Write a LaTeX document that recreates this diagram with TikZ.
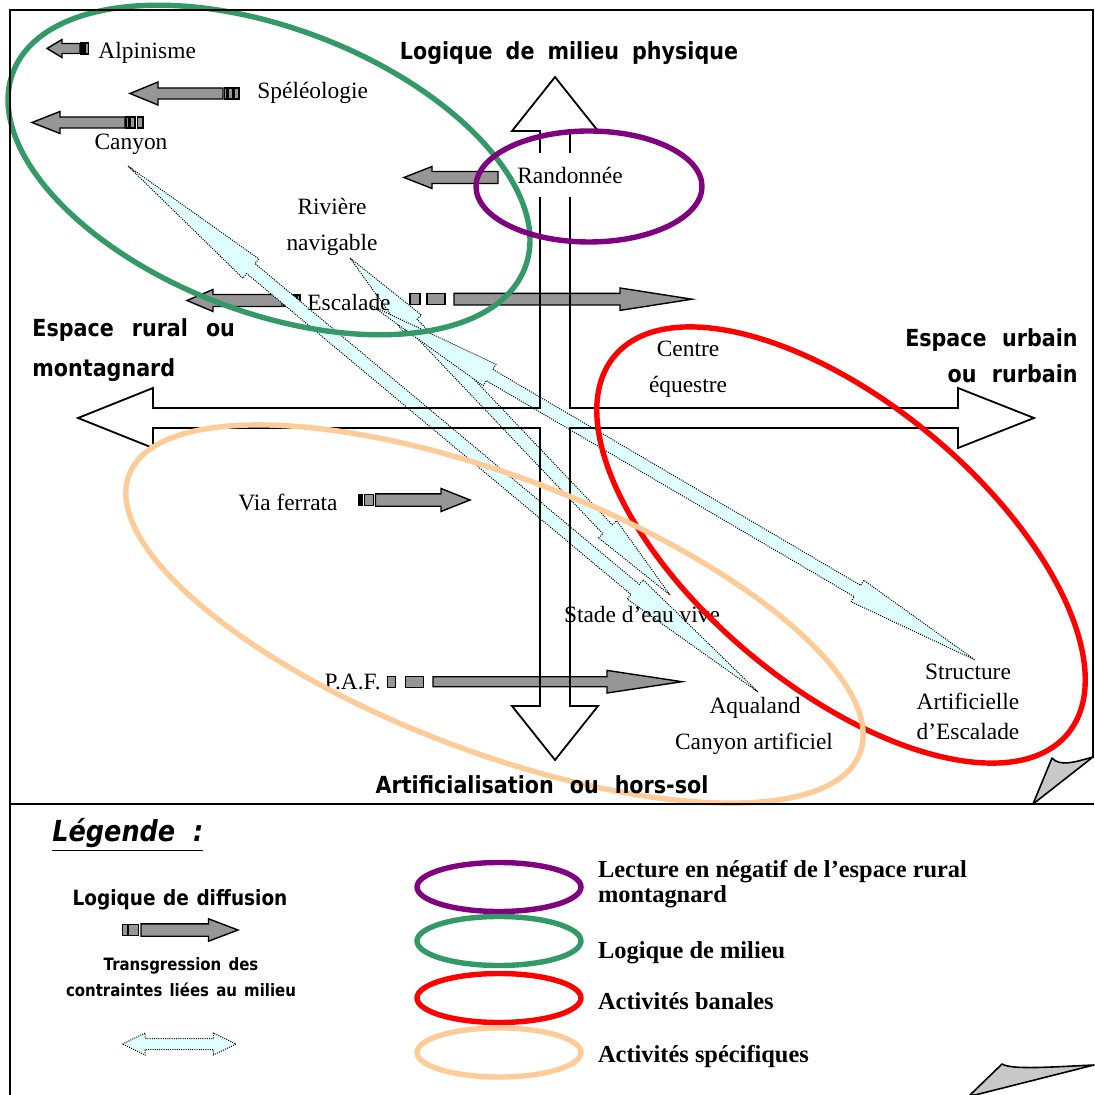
\documentclass[tikz,border=0pt]{standalone}
\usepackage{fontspec}
\setmainfont{Liberation Serif}
\newfontfamily\etroite{DejaVu Sans}[FakeStretch=0.88]
\usetikzlibrary{positioning, calc, shapes.geometric, backgrounds}
\definecolor{Gris}{HTML}{969696}
\definecolor{Pli}{HTML}{C8C8C8}
\definecolor{Transg}{HTML}{E0FFFF}
\definecolor{Vert}{HTML}{339966}
\definecolor{Violet}{HTML}{800080}
\definecolor{Rouge}{HTML}{FF0000}
\definecolor{Peche}{HTML}{FFCC99}
\newcommand{\lieufont}{\fontsize{11.7}{18}\selectfont}
\newcommand{\axefont}{\etroite\bfseries\fontsize{11.75}{20}\selectfont\spaceskip=6.5pt\relax}
\newcommand{\legfont}{\bfseries\fontsize{12.2}{12.5}\selectfont}
% flèche grise : queue, base de la tête, pointe, y, demi-tête, demi-tige
\newcommand{\fleche}[6]{\draw[diffusion] (#1,#4-#6) -- (#2,#4-#6) -- (#2,#4-#5) -- (#3,#4) -- (#2,#4+#5) -- (#2,#4+#6) -- (#1,#4+#6) -- cycle;}
\newcommand{\bloc}[3]{\draw[diffusion] (#1,#3-5.5) rectangle (#2,#3+5.5);}
% double flèche pointillée : départ, arrivée, part de la tête, demi-tête, demi-tige
\newcommand{\transg}[5]{%
  \coordinate (#1-b) at ($(#1)!#3!(#2)$);
  \coordinate (#2-b) at ($(#2)!#3!(#1)$);
  \draw[transgression] (#1) -- ($(#1-b)!#4!90:(#2)$) -- ($(#1-b)!#5!90:(#2)$)
    -- ($(#2-b)!#5!-90:(#1)$) -- ($(#2-b)!#4!-90:(#1)$) -- (#2)
    -- ($(#2-b)!#4!90:(#1)$) -- ($(#2-b)!#5!90:(#1)$)
    -- ($(#1-b)!#5!-90:(#2)$) -- ($(#1-b)!#4!-90:(#2)$) -- cycle;}
\tikzset{
    cadre/.style={draw=black, line width=1pt},
    axe/.style={draw=black, line width=0.9pt, line join=miter},
    diffusion/.style={draw=black, fill=Gris, line width=0.7pt},
    transgression/.style={draw=black, fill=Transg, line width=0.5pt, dash pattern=on 0.5pt off 0.6pt},
    zone/.style={line width=2.7pt},
    pli/.style={draw=black, fill=Pli, line width=0.8pt, line join=round},
    etiquette/.style={font=\lieufont, inner sep=1pt, align=center},
    titre/.style={font=\axefont, inner sep=1pt, align=center},
    legtexte/.style={font=\legfont, inner sep=0pt, anchor=west, align=left},
    legzone/.style={ellipse, zone, minimum width=82pt, minimum height=24.5pt},
}
\begin{document}
\begin{tikzpicture}[x=0.5pt, y=-0.5pt]
\useasboundingbox (0,0) rectangle (1094,1095);

% Titres des axes
\node[titre] (physique) at (569,53) {Logique de milieu physique};
\node[titre, anchor=west, align=left, font={\axefont\spaceskip=9pt\relax}] (rural) at (30,350) {Espace rural ou\\montagnard};
\node[titre, anchor=east, align=right, font={\axefont\fontsize{11.75}{18}\selectfont\spaceskip=7.7pt\relax}] (urbain) at (1080,356) {Espace urbain\\ou rurbain};

% Activités
\node[etiquette, anchor=west] (alpinisme) at (96,52.5) {Alpinisme};
\node[etiquette, anchor=west] (speleo) at (255,92.5) {Spéléologie};
\node[etiquette] (canyon) at (131,144.5) {Canyon};
\node[etiquette] (riviere) at (332,227) {Rivière\\navigable};
\node[etiquette, fill=white, inner xsep=3pt, inner ysep=7pt] (rando) at (570,175) {Randonnée};
\node[etiquette] (escalade) at (349,302) {Escalade};
\node[etiquette] (centre) at (688,369) {Centre\\équestre};
\node[etiquette, anchor=east] (viaferrata) at (340,502) {Via ferrata};
\node[etiquette] (stade) at (642,614) {Stade d'eau vive};
\node[etiquette, anchor=east] (paf) at (383,682) {P.A.F.};
\node[etiquette] (aqualand) at (755,707.5) {Aqualand};
\node[etiquette] (canyonart) at (754,743.5) {Canyon artificiel};
\node[etiquette, font=\fontsize{11.7}{15}\selectfont] (sae) at (968,702) {Structure\\Artificielle\\d'Escalade};

% bouts des transgressions
\coordinate (tA1) at ($(canyon)+(-3,21.5)$);
\coordinate (tA2) at ($(aqualand)+(3,-15.5)$);
\coordinate (tB1) at ($(riviere)+(18,31)$);
\coordinate (tB2) at ($(stade)+(28,-19)$);
\coordinate (tC1) at ($(escalade)+(23,4)$);
\coordinate (tC2) at ($(sae)+(7,-42)$);

\begin{scope}[on background layer]
    % Logique de diffusion
    \fleche{80}{62}{47}{48.5}{9}{5}
    \draw[diffusion, fill=black] (81,43) rectangle (84.5,54);
    \bloc{85.5}{88.5}{48.5}
    \fleche{223}{158}{130}{93.5}{11.5}{5.5}
    \bloc{224.5}{226.5}{93.5} \bloc{228}{233}{93.5} \bloc{234.5}{239}{93.5}
    \fleche{125}{60}{32}{122.5}{11}{5.5}
    \bloc{126}{128.5}{122.5} \bloc{130}{135}{122.5} \bloc{137.5}{143}{122.5}
    \fleche{498}{432}{404}{177.5}{11}{6}
    \fleche{282}{213}{187}{300.5}{11}{6}
    \bloc{283.5}{290}{300.5} \bloc{291.5}{295.5}{300.5} \bloc{297}{300}{300.5}
    \bloc{410}{420}{299.2} \bloc{427}{445}{299.2}
    \fleche{454}{620}{692}{299.2}{11.2}{5.8}
    \draw[diffusion, fill=black] (358.5,494.5) rectangle (362,505.5);
    \bloc{364.5}{373.5}{500}
    \fleche{375.5}{441}{470}{500}{11.5}{6.2}
    \bloc{387.5}{395.5}{681.7} \bloc{405.5}{423.5}{681.7}
    \fleche{433}{607}{682}{681.7}{11.3}{5}

    % Transgression des contraintes
    \transg{tA1}{tA2}{0.195}{6.25pt}{3.25pt}
    \transg{tB1}{tB2}{0.195}{6.25pt}{3.25pt}
    \transg{tC1}{tC2}{0.195}{6.25pt}{3.25pt}

    % Croix des axes
    \draw[axe] (555,77) -- (598,131) -- (570,131) -- (570,408) -- (958,408) -- (958,388)
        -- (1034,418) -- (958,448) -- (958,428) -- (570,428) -- (570,706) -- (598,706)
        -- (555,760) -- (512,706) -- (540,706) -- (540,428) -- (153,428) -- (153,448)
        -- (78,418) -- (153,388) -- (153,408) -- (540,408) -- (540,131) -- (512,131) -- cycle;
\end{scope}

% Zones
\draw[zone, Vert, rotate around={-20.9:(269,170)}] (269,170) ellipse [x radius=274, y radius=142];
\draw[zone, Violet] (589,186.5) ellipse [x radius=113, y radius=55.5];
\draw[zone, Rouge, rotate around={-39.8:(841,545)}] (841,545) ellipse [x radius=295, y radius=142];
\draw[zone, Peche, rotate around={-20.85:(494.5,614)}] (494.5,614) ellipse [x radius=391, y radius=137];

% titre du bas par-dessus la zone orange
\node[titre, font={\axefont\spaceskip=8pt\relax}] (artif) at (542,785) {Artificialisation ou hors-sol};

% Cadre
\draw[cadre] (1094,10) -- (10,10) -- (10,1095);
\draw[cadre] (1093,10) -- (1093,758);
\draw[cadre] (10,804) -- (1094,804);
\draw[pli] (1033,804) -- (1052,758) .. controls (1060,767) and (1075,762) .. (1093,757) -- cycle;
\draw[pli] (970,1095) -- (1002,1064) .. controls (1012,1070) and (1050,1067) .. (1094,1065) -- (975,1095) -- cycle;

% Légende
\node[anchor=west, inner sep=0pt, font=\etroite\bfseries\itshape\fontsize{14.5}{16}\selectfont] (legende) at (52,835) {\underline{Légende\ \ :}};
\node[titre, font={\etroite\bfseries\fontsize{10.5}{12}\selectfont\spaceskip=3.8pt\relax}] (diffusion) at (180,900) {Logique de diffusion};
\bloc{122.5}{127.5}{930} \bloc{128.5}{138.5}{930}
\fleche{141}{208.5}{238}{930}{11.2}{6.2}
\node[titre, font={\etroite\bfseries\fontsize{8.5}{13}\selectfont\spaceskip=3.6pt\relax}] (transgr) at (181,977) {Transgression des\\contraintes liées au milieu};
\coordinate (legT1) at (122.5,1044);
\coordinate (legT2) at (236,1044);
\transg{legT1}{legT2}{0.2}{5.5pt}{2.75pt}

\node[legzone, draw=Violet] (legviolet) at (499,887) {};
\node[legzone, draw=Vert] (legvert) at (499,941) {};
\node[legzone, draw=Rouge] (legrouge) at (499,998) {};
\node[legzone, draw=Peche] (legpeche) at (499,1052.5) {};
\node[legtexte, right=7pt of legviolet, yshift=1.4pt] (lecture) {Lecture en négatif de l'espace rural\\montagnard};
\node[legtexte, right=7pt of legvert, yshift=-6pt] (milieu) {Logique de milieu};
\node[legtexte, right=7pt of legrouge, yshift=-1.8pt] (banales) {Activités banales};
\node[legtexte, right=7pt of legpeche, yshift=-2.2pt] (specifiques) {Activités spécifiques};
\end{tikzpicture}
\end{document}
